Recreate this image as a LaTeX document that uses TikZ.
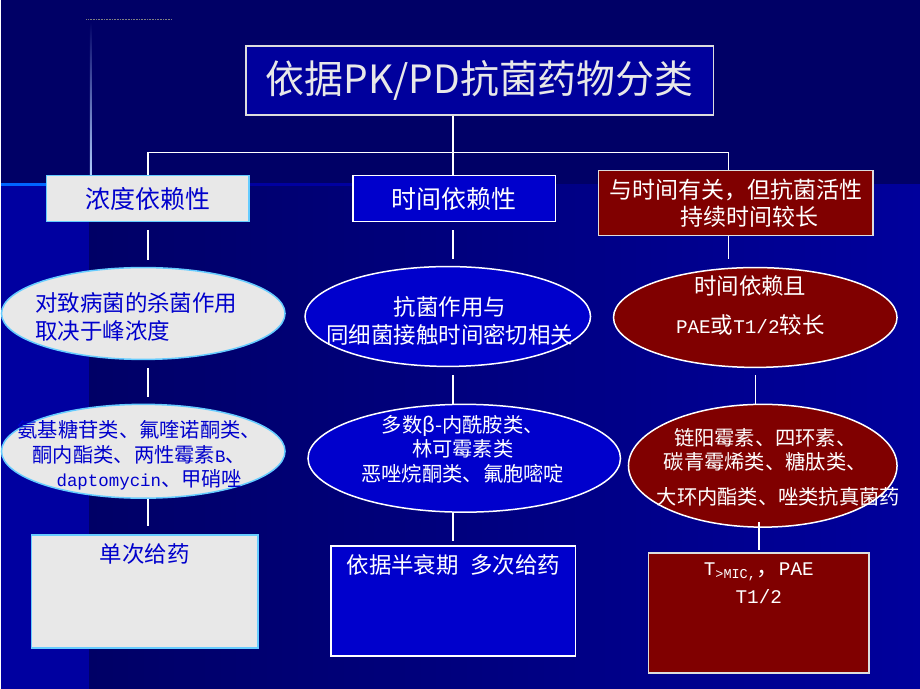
\documentclass[tikz,border=0pt]{standalone}
\usepackage{fontspec}
\setmainfont{Noto Sans CJK SC}
\newfontfamily\latin[Scale=0.86]{Liberation Mono}
\usetikzlibrary{shapes.geometric}
\definecolor{bgnavy}{HTML}{000066}
\definecolor{bgblue}{HTML}{00009C}
\definecolor{stripeblue}{HTML}{0000A0}
\definecolor{glowblue}{HTML}{0066FF}
\definecolor{titleblue}{HTML}{00009C}
\definecolor{boxblue}{HTML}{0000CC}
\definecolor{boxgrey}{HTML}{E8E8E8}
\definecolor{edgecyan}{HTML}{66CCFF}
\definecolor{txtblue}{HTML}{0000CC}
\definecolor{boxred}{HTML}{800000}
\definecolor{edgegrey}{HTML}{DDDDDD}
\tikzset{
  greybox/.style={draw=edgecyan, line width=1.5pt, fill=boxgrey, text=txtblue, inner sep=0pt},
  bluebox/.style={draw=white, line width=1.5pt, fill=boxblue, text=white, inner sep=0pt},
  redbox/.style={draw=edgegrey, line width=1.5pt, fill=boxred, text=white, inner sep=0pt},
  oval/.style={ellipse, inner sep=0pt},
  txt/.style={align=center, inner sep=0pt, font=\fontsize{22.5}{28}\selectfont},
  small/.style={align=center, inner sep=0pt, font=\fontsize{20.3}{24.5}\selectfont},
  link/.style={draw=white, line width=1.5pt}
}

\begin{document}
\begin{tikzpicture}[x=1pt,y=-1pt]
  % background
  \fill[bgnavy] (0,0) rectangle (920,690);
  \shade[left color=bgnavy, right color=bgblue] (88,185) rectangle (920,690);
  \fill[stripeblue] (0,185) rectangle (88,690);
  \shade[top color=bgnavy, bottom color=white!70!glowblue] (88.5,22) rectangle (90,176);
  \draw[glowblue, line width=3pt] (0,185) -- (45,185);
  \draw[stripeblue, line width=3pt] (248,185) -- (352,185);
  \draw[gray, densely dotted, line width=0.6pt] (85,19) -- (170,19);
  \useasboundingbox (0,0) rectangle (920,690);

  \node[bluebox, fill=titleblue, draw=edgegrey, text=boxgrey, minimum width=468, minimum height=69,
        font=\fontsize{39}{44}\selectfont] (title) at (479,80.5) {依据PK/PD抗菌药物分类};

  \node[greybox, minimum width=203, minimum height=46, font=\fontsize{25}{28}\selectfont] (b1) at (146.5,199) {浓度依赖性};
  \node[bluebox, minimum width=203, minimum height=46, font=\fontsize{25}{28}\selectfont] (b2) at (453.5,199) {时间依赖性};
  \node[redbox, minimum width=275, minimum height=65, align=center, font=\fontsize{23}{27}\selectfont] (b3) at (735.5,203.5)
       {与时间有关，但抗菌活性\\\hspace*{1.2em}持续时间较长};

  \node[oval, greybox, minimum width=284, minimum height=92] (e1) at (142,314) {};
  \node[oval, bluebox, minimum width=286, minimum height=100] (e2) at (447,317) {};
  \node[oval, redbox, draw=white, minimum width=284, minimum height=100] (e3) at (755,318) {};
  \node[txt, align=left, text=txtblue] (e1t) at (135,317) {对致病菌的杀菌作用\\取决于峰浓度};
  \node[txt, text=white] (e2t) at (449,321) {抗菌作用与\\同细菌接触时间密切相关};
  \node[txt, text=white] (e3t) at (750,306) {时间依赖且\\[12pt]{\latin PAE}或{\latin T1/2}较长};

  \node[oval, greybox, minimum width=284, minimum height=94] (e4) at (142,452) {};
  \node[oval, bluebox, minimum width=313, minimum height=108] (e5) at (463.5,459) {};
  \node[oval, redbox, draw=white, minimum width=269, minimum height=123] (e6) at (762.5,466.5) {};
  \node[small, text=txtblue] (e4t) at (138,456)
       {氨基糖苷类、氟喹诺酮类、\\酮内酯类、两性霉素{\latin B}、\\\hspace*{1em}{\latin daptomycin}、甲硝唑};
  \node[small, text=white] (e5t) at (462,450) {多数β-内酰胺类、\\林可霉素类\\恶唑烷酮类、氟胞嘧啶};
  \node[small, text=white] (e6t) at (765,468) {链阳霉素、四环素、\\碳青霉烯类、糖肽类、\\[10pt]\hspace*{1.3em}大环内酯类、唑类抗真菌药};

  \node[greybox, minimum width=227, minimum height=113] (b4) at (143.5,592.5) {};
  \node[bluebox, minimum width=245, minimum height=110] (b5) at (452.5,602) {};
  \node[redbox, minimum width=221, minimum height=120] (b6) at (758.5,614) {};
  \node[txt, text=txtblue, anchor=north] (b4t) at ([yshift=-9]b4.north) {单次给药};
  \node[txt, text=white, anchor=north] (b5t) at ([yshift=-9]b5.north) {依据半衰期\hspace{0.5em}多次给药};
  \node[txt, text=white, anchor=north] (b6t) at ([yshift=-10]b6.north)
       {{\latin T\textsubscript{>MIC,}}，{\latin PAE}\\{\latin T1/2}};

  % connectors
  \coordinate (split) at (452,153);
  \coordinate (right) at (728,153);
  \draw[link] (split |- title.south) -- (split);
  \draw[link] (b1.north) |- (right) -- (right |- b3.north);
  \draw[link] (split) -- (split |- b2.north);

  \draw[link, shorten <=8, shorten >=7] (b1.south) -- (b1.south |- e1.north);
  \draw[link, shorten <=8, shorten >=7] (split |- b2.south) -- (split |- e2.north);
  \draw[link, shorten >=8] (right |- b3.south) -- (right |- e3.north);

  \draw[link, shorten <=8, shorten >=7] (b1.south |- e1.south) -- (b1.south |- e4.north);
  \draw[link, shorten <=8] (split |- e2.south) -- (split |- e5.north);
  \draw[link, shorten <=7] (e3.south) -- (e3.south |- e6.north);

  \draw[link, shorten >=8] (b1.south |- e4.south) -- (b1.south |- b4.north);
  \draw[link, shorten >=4] (split |- e5.south) -- (split |- b5.north);
  \draw[link, shorten <=-6, shorten >=2] (b6.north |- e6.south) -- (b6.north);
\end{tikzpicture}
\end{document}
